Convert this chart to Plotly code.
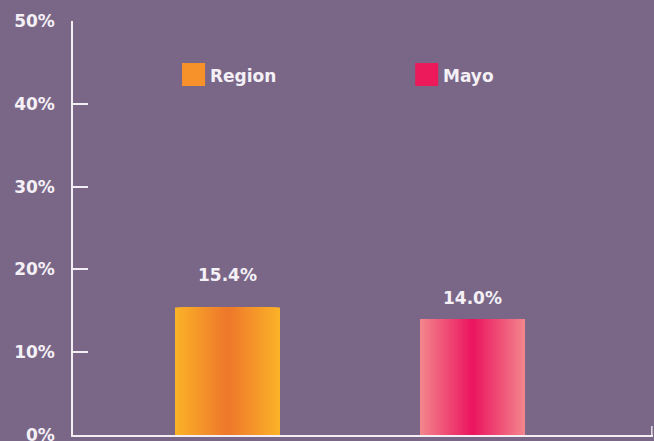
import plotly.graph_objects as go

categories = ["Region", "Mayo"]
values = [15.4, 14.0]
labels = ["15.4%", "14.0%"]
y_ticks = [0, 10, 20, 30, 40, 50]
y_tick_labels = ["0%", "10%", "20%", "30%", "40%", "50%"]

edge_colors = [(251, 177, 40), (243, 132, 140)]
center_colors = [(238, 120, 43), (235, 22, 95)]
legend_colors = ["#F7922B", "#EC1A5B"]

BG = "#7A6788"
FONT = "'DejaVu Sans', sans-serif"
TXT = "#F4F0F6"
STEPS = 24
BAR_W = 0.4286

fig = go.Figure()
for i, cat in enumerate(categories):
    e, c = edge_colors[i], center_colors[i]
    for s in range(STEPS):
        t = s / (STEPS - 1)
        col = tuple(round(e[k] + (c[k] - e[k]) * t) for k in range(3))
        w = BAR_W * (1 - s / STEPS)
        fig.add_trace(go.Bar(
            x=[cat], y=[values[i]], width=[w],
            marker=dict(color="rgb(%d,%d,%d)" % col, line=dict(width=0)),
            showlegend=False, hoverinfo="skip"))

for i, cat in enumerate(categories):
    fig.add_annotation(x=cat, y=values[i], text=labels[i], showarrow=False,
                       yanchor="bottom", yshift=[20, 9][i],
                       font=dict(family=FONT, size=17, color=TXT, weight=700))

# custom legend
leg_x = [0.188, 0.59]
for i, cat in enumerate(categories):
    fig.add_shape(type="rect", xref="paper", yref="paper",
                  x0=leg_x[i], x1=leg_x[i] + 0.0397, y0=0.843, y1=0.8986,
                  fillcolor=legend_colors[i], line=dict(width=0))
    fig.add_annotation(xref="paper", yref="paper", x=leg_x[i] + 0.0445, y=0.868,
                       text=cat, showarrow=False, xanchor="left", yanchor="middle",
                       font=dict(family=FONT, size=17, color=TXT, weight=700))

# small end tick on x axis
fig.add_shape(type="line", xref="paper", yref="paper", x0=0.998, x1=0.998,
              y0=0, y1=0.022, line=dict(color="#E6E1EA", width=1.5))

fig.update_layout(
    width=654, height=441,
    margin=dict(l=73, r=1, t=21, b=6, autoexpand=False),
    paper_bgcolor=BG, plot_bgcolor=BG,
    barmode="overlay",
    showlegend=False,
    xaxis=dict(type="category", range=[-0.6306, 1.7367], showticklabels=False,
               showgrid=False, zeroline=False, showline=True, linecolor="#F2EEF4",
               linewidth=2, ticks=""),
    yaxis=dict(range=[0, 50], tickvals=y_ticks, ticktext=y_tick_labels,
               showgrid=False, zeroline=False, showline=True, linecolor="#F2EEF4",
               linewidth=1.5, ticks="inside", ticklen=15, tickcolor="#F2EEF4",
               tickwidth=1.5, ticklabelstandoff=13, ticklabeloverflow="allow",
               tickfont=dict(family=FONT, size=17, color=TXT, weight=700)),
)

fig.write_html("out.html", config={"displayModeBar": False},
               post_script="document.body.style.margin='0';document.body.style.overflow='hidden';")
